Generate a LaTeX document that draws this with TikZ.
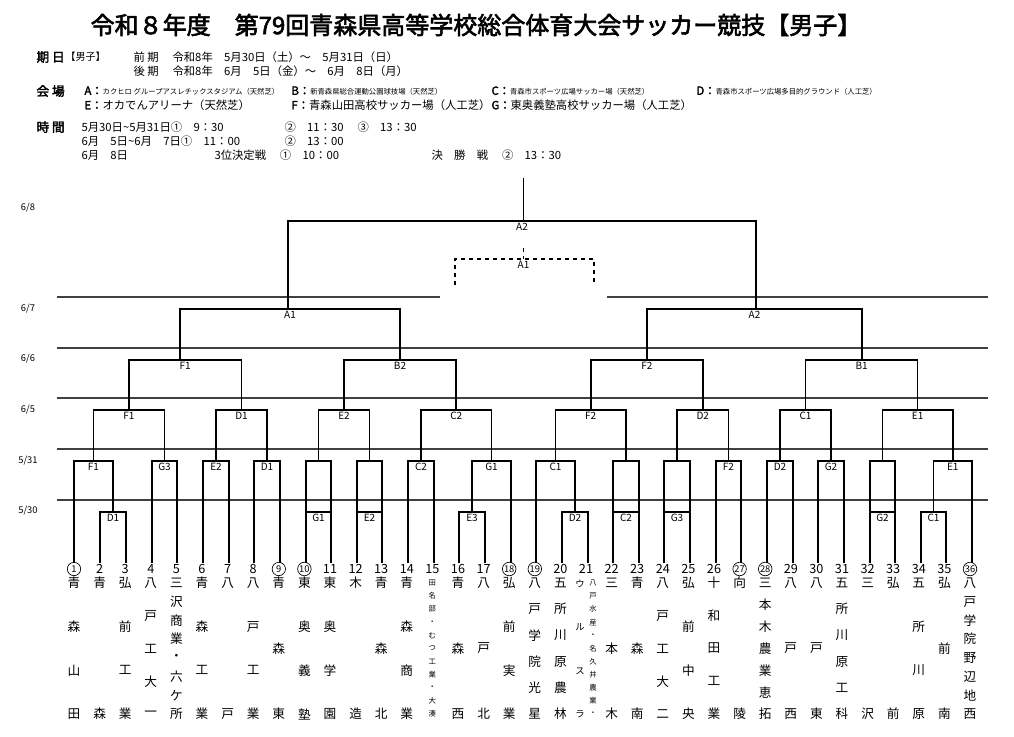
\documentclass[tikz,border=0pt]{standalone}
\usepackage{fontspec}
\setmainfont{Noto Sans CJK JP}[AutoFakeBold=2.5]
\tikzset{every picture/.style={line width=0.75pt}}
\tikzset{
  rule/.style={line width=1.1pt,black!75},
  brk/.style={line width=1.3pt},
  lbl/.style={inner sep=0.75pt,font=\fontsize{7.5}{8}\selectfont},
  hdr/.style={anchor=west,inner sep=0.75pt,font=\fontsize{8.5}{9}\selectfont},
  tiny/.style={anchor=west,inner sep=0.75pt,font=\fontsize{5.5}{6}\selectfont},
  datel/.style={inner sep=0.75pt,font=\fontsize{7}{7}\selectfont},
  num/.style={inner sep=0.6pt,font=\fontsize{9.5}{9}\selectfont},
  seed/.style={num,circle,draw,line width=0.5pt,inner sep=0.3pt,minimum size=10pt},
  tm/.style={inner sep=0pt,font=\fontsize{9.5}{9}\selectfont},
  tms/.style={inner sep=0pt,font=\fontsize{5.5}{6}\selectfont}
}
% match bar: left x, left bottom, right x, right bottom, bar y, label
\newcommand{\mt}[6]{%
  \draw[brk] (#1,#2) -- (#1,#5) -- (#3,#5) -- (#3,#4);
  \node[lbl,anchor=north] at ({(#1+#3)/2},#5+1) {#6};}
\begin{document}
\begin{tikzpicture}[x=0.75pt,y=0.75pt,yscale=-1,xscale=1]
\useasboundingbox (0,0) rectangle (1014,736);

%title and header
\node[anchor=center,inner sep=0pt,font=\fontsize{18}{19}\selectfont\bfseries] (title) at (476,25) {令和８年度　第79回青森県高等学校総合体育大会サッカー競技【男子】};
\node[hdr,font=\fontsize{9.5}{10}\selectfont\bfseries] (kijitsu) at (35,57) {期 日};
\node[hdr,font=\fontsize{7.5}{8}\selectfont] at (64,57) {【男子】};
\node[hdr] at (132,57) {前 期　\ 令和8年　5月30日（土）～　5月31日（日）};
\node[hdr] at (132,71) {後 期　\ 令和8年　6月　5日（金）～　6月　8日（月）};
\node[hdr,font=\fontsize{9.5}{10}\selectfont\bfseries] (kaijo) at (35,91) {会 場};
\node[tiny] at (83,91) {\textbf{\fontsize{8.5}{9}\selectfont A：}カクヒロ グループアスレチックスタジアム（天然芝）};
\node[tiny] at (290,91) {\textbf{\fontsize{8.5}{9}\selectfont B：}新青森県総合運動公園球技場（天然芝）};
\node[tiny] at (490,91) {\textbf{\fontsize{8.5}{9}\selectfont C：}青森市スポーツ広場サッカー場（天然芝）};
\node[tiny] at (695,91) {\textbf{\fontsize{8.5}{9}\selectfont D：}青森市スポーツ広場多目的グラウンド（人工芝）};
\node[hdr] at (83,105) {\textbf{E：}オカでんアリーナ（天然芝）};
\node[hdr] at (290,105) {\textbf{F：}青森山田高校サッカー場（人工芝）};
\node[hdr] at (490,105) {\textbf{G：}東奥義塾高校サッカー場（人工芝）};
\node[hdr,font=\fontsize{9.5}{10}\selectfont\bfseries] (jikan) at (35,127) {時 間};
\node[hdr] at (80,127) {5月30日\textasciitilde5月31日①　9：30};
\node[hdr] at (283,127) {②　11：30　\ ③　13：30};
\node[hdr] at (80,141) {6月　5日\textasciitilde6月　7日①　11：00};
\node[hdr] at (283,141) {②　13：00};
\node[hdr] at (80,155) {6月　8日};
\node[hdr] at (213,155) {3位決定戦　\ ①　10：00};
\node[hdr] at (430,155) {決　勝　戦　\ ②　13：30};

%date rules
\draw[rule] (57,297) -- (440,297);
\draw[rule] (607,297) -- (988,297);
\foreach \y in {348,398,449,500} \draw[rule] (57,\y) -- (988,\y);
\foreach \d/\y in {{6/8}/208,{6/7}/309,{6/6}/359,{6/5}/410,{5/31}/461,{5/30}/511}
  \node[datel] at (28,\y) {\d};

%team numbers and names
\foreach \i/\n/\s in {1/4/{青,森,山,田},2/2/{青,森},3/4/{弘,前,工,業},4/5/{八,戸,工,大,一},
  5/8/{三,沢,商,業,・,六,ケ,所},6/4/{青,森,工,業},7/2/{八,戸},8/4/{八,戸,工,業},9/3/{青,森,東},
  10/4/{東,奥,義,塾},11/4/{東,奥,学,園},12/2/{木,造},13/3/{青,森,北},14/4/{青,森,商,業},
  16/3/{青,森,西},17/3/{八,戸,北},18/4/{弘,前,実,業},19/6/{八,戸,学,院,光,星},
  20/6/{五,所,川,原,農,林},22/3/{三,本,木},23/3/{青,森,南},24/5/{八,戸,工,大,二},
  25/4/{弘,前,中,央},26/5/{十,和,田,工,業},27/2/{向,陵},28/7/{三,本,木,農,業,恵,拓},
  29/3/{八,戸,西},30/3/{八,戸,東},31/6/{五,所,川,原,工,科},32/2/{三,沢},33/2/{弘,前},
  34/4/{五,所,川,原},35/3/{弘,前,南},36/8/{八,戸,学,院,野,辺,地,西}}{
  \foreach \c [count=\k from 0] in \s
    \node[tm] at ({74+25.6*(\i-1)},{583+\k*131/(\n-1)}) {\c};
}
\foreach \c [count=\k from 0] in {田,名,部,・,む,つ,工,業,・,大,湊}
  \node[tms] at (432.4,{583+\k*13.1}) {\c};
\foreach \c [count=\k from 0] in {ウ,ル,ス,ラ}
  \node[tms,font=\fontsize{7}{7}\selectfont] at (580,{584+\k*43.5}) {\c};
\foreach \c [count=\k from 0] in {八,戸,水,産,・,名,久,井,農,業,・}
  \node[tms] at (593,{583+\k*13.1}) {\c};
\foreach \i in {1,...,36}{
  \pgfmathtruncatemacro{\sd}{(\i==1)||(\i==9)||(\i==10)||(\i==18)||(\i==19)||(\i==27)||(\i==28)||(\i==36)}
  \ifnum\sd=1
    \node[seed,font=\fontsize{7}{7}\selectfont] (n\i) at ({74+25.6*(\i-1)},569) {\i};
  \else
    \node[num] (n\i) at ({74+25.6*(\i-1)},569) {\i};
  \fi
}

%5/30 and 5/31
\mt{100}{563}{126}{563}{512}{D1}
\mt{74}{563}{113}{512}{461}{F1}
\mt{152}{563}{177}{563}{461}{G3}
\mt{203}{563}{229}{563}{461}{E2}
\mt{254}{563}{280}{563}{461}{D1}
\mt{306}{563}{331}{563}{461}{}
\draw[brk] (306,512) -- (331,512) node[lbl,anchor=north,pos=0.5] {G1};
\mt{357}{563}{382}{563}{461}{}
\draw[brk] (357,512) -- (382,512) node[lbl,anchor=north,pos=0.5] {E2};
\mt{408}{563}{434}{563}{461}{C2}
\mt{459}{563}{485}{563}{512}{E3}
\mt{472}{512}{511}{563}{461}{G1}
\mt{562}{563}{588}{563}{512}{D2}
\mt{536}{563}{575}{512}{461}{C1}
\mt{613}{563}{639}{563}{461}{}
\draw[brk] (613,512) -- (639,512) node[lbl,anchor=north,pos=0.5] {C2};
\mt{664}{563}{690}{563}{461}{}
\draw[brk] (664,512) -- (690,512) node[lbl,anchor=north,pos=0.5] {G3};
\mt{716}{563}{741}{563}{461}{F2}
\mt{767}{563}{793}{563}{461}{D2}
\mt{818}{563}{844}{563}{461}{G2}
\mt{870}{563}{895}{563}{461}{}
\draw[brk] (870,512) -- (895,512) node[lbl,anchor=north,pos=0.5] {G2};
\mt{921}{563}{946}{563}{512}{C1}
\mt{933.5}{512}{972}{563}{461}{E1}

%6/5
\mt{93.5}{461}{164.5}{461}{410}{F1}
\mt{216}{461}{267}{461}{410}{D1}
\mt{318.5}{461}{369.5}{461}{410}{E2}
\mt{421}{461}{491.5}{461}{410}{C2}
\mt{555.5}{461}{626}{461}{410}{F2}
\mt{677}{461}{728.5}{461}{410}{D2}
\mt{780}{461}{831}{461}{410}{C1}
\mt{882.5}{461}{952.75}{461}{410}{E1}

%6/6
\mt{129}{410}{241.5}{410}{360}{F1}
\mt{344}{410}{456}{410}{360}{B2}
\mt{591}{410}{703}{410}{360}{F2}
\mt{805.5}{410}{917.6}{410}{360}{B1}

%6/7
\mt{180}{360}{400}{360}{309}{A1}
\mt{647}{360}{862}{360}{309}{A2}

%6/8
\mt{288}{309}{756}{309}{221}{A2}
\draw[brk] (523.5,221) -- (523.5,178);
\draw[dashed,line width=1pt] (455,285) -- (455,259) -- (594,259) -- (594,285);
\draw[dashed,line width=1pt] (523.5,248) -- (523.5,259);
\node[lbl,anchor=north] at (523.5,260) {A1};
\end{tikzpicture}
\end{document}
